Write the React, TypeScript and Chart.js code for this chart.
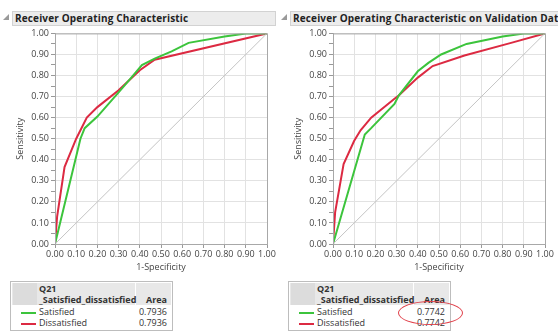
import React, { useEffect, useRef } from "react";
import { Chart, registerables } from "chart.js";

Chart.register(...registerables);

// ---- data ----
const axisTicks = [0, 0.1, 0.2, 0.3, 0.4, 0.5, 0.6, 0.7, 0.8, 0.9, 1.0];

const trainSatisfiedFpr = [0, 0.12, 0.14, 0.2, 0.3, 0.36, 0.41, 0.47, 0.55, 0.63, 0.8, 0.9, 1.0];
const trainSatisfiedTpr = [0, 0.5, 0.55, 0.605, 0.72, 0.79, 0.85, 0.88, 0.915, 0.955, 0.985, 1.0, 1.0];
const trainDissatisfiedFpr = [0, 0.01, 0.045, 0.1, 0.15, 0.2, 0.3, 0.4, 0.47, 1.0];
const trainDissatisfiedTpr = [0, 0.13, 0.365, 0.5, 0.6, 0.65, 0.73, 0.825, 0.875, 1.0];

const validSatisfiedFpr = [0, 0.15, 0.18, 0.29, 0.31, 0.4, 0.45, 0.51, 0.63, 0.8, 0.9, 1.0];
const validSatisfiedTpr = [0, 0.52, 0.55, 0.665, 0.705, 0.82, 0.86, 0.9, 0.95, 0.985, 1.0, 1.0];
const validDissatisfiedFpr = [0, 0.01, 0.05, 0.1, 0.13, 0.18, 0.29, 0.31, 0.4, 0.47, 0.62, 0.84, 1.0];
const validDissatisfiedTpr = [0, 0.15, 0.38, 0.49, 0.54, 0.6, 0.69, 0.705, 0.79, 0.845, 0.895, 0.955, 1.0];

const legendLabels = ["Satisfied", "Dissatisfied"];
const trainAreas = ["0.7936", "0.7936"];
const validAreas = ["0.7742", "0.7742"];
const panelTitles = ["Receiver Operating Characteristic", "Receiver Operating Characteristic on Validation Data"];

const GREEN = "#3cc43c";
const RED = "#dc2a42";
const FONT = "'Open Sans', 'DejaVu Sans', sans-serif";

function toPoints(xs: number[], ys: number[]) {
  return xs.map((x, i) => ({ x, y: ys[i] }));
}

function RocChart(props: { left: number; satX: number[]; satY: number[]; disX: number[]; disY: number[] }) {
  const ref = useRef<HTMLCanvasElement>(null);
  useEffect(() => {
    if (!ref.current) return;
    const isMajor = (v: number) => Math.round(v * 100) % 10 === 0;
    const chart = new Chart(ref.current, {
      type: "scatter",
      data: {
        datasets: [
          {
            label: "diag",
            data: [{ x: 0, y: 0 }, { x: 1, y: 1 }],
            showLine: true,
            borderColor: "#c4c4c4",
            borderWidth: 1,
            pointRadius: 0,
          },
          {
            label: legendLabels[0],
            data: toPoints(props.satX, props.satY),
            showLine: true,
            borderColor: GREEN,
            borderWidth: 2,
            pointRadius: 0,
          },
          {
            label: legendLabels[1],
            data: toPoints(props.disX, props.disY),
            showLine: true,
            borderColor: RED,
            borderWidth: 2,
            pointRadius: 0,
          },
        ],
      },
      options: {
        animation: false,
        responsive: false,
        maintainAspectRatio: false,
        layout: { padding: { top: 6, right: 12, left: 0, bottom: 0 } },
        plugins: { legend: { display: false }, tooltip: { enabled: false } },
        scales: {
          x: {
            type: "linear",
            min: 0,
            max: 1,
            afterFit: (s: any) => { s.height = 30; },
            afterBuildTicks: (s: any) => { s.ticks = axisTicks.map((v) => ({ value: v })); },
            ticks: {
              autoSkip: false,
              maxRotation: 0,
              padding: 1,
              color: "#444",
              font: { family: FONT, size: 9 },
              callback: (v: any) => Number(v).toFixed(2),
            },
            grid: { color: "#e2e2e2", tickColor: "#999", tickLength: 4 },
            border: { color: "#a8a8a8" },
            title: { display: true, text: "1-Specificity", color: "#444", font: { family: FONT, size: 9 }, padding: { top: 0, bottom: 1 } },
          },
          y: {
            type: "linear",
            min: 0,
            max: 1,
            afterFit: (s: any) => { s.width = 47; },
            afterBuildTicks: (s: any) => {
              const t = [];
              for (let i = 0; i <= 20; i++) t.push({ value: i / 20 });
              s.ticks = t;
            },
            ticks: {
              autoSkip: false,
              padding: 2,
              color: "#444",
              font: { family: FONT, size: 9 },
              callback: (v: any) => (isMajor(Number(v)) ? Number(v).toFixed(2) : ""),
            },
            grid: {
              color: (c: any) => (c.tick && isMajor(c.tick.value) ? "#e2e2e2" : "rgba(0,0,0,0)"),
              tickColor: "#999",
              tickLength: 4,
            },
            border: { color: "#a8a8a8" },
            title: { display: true, text: "Sensitivity", color: "#444", font: { family: FONT, size: 9 }, padding: { top: 7, bottom: 0 } },
          },
        },
      },
      plugins: [
        {
          id: "frame",
          afterDraw(c: any) {
            const a = c.chartArea;
            const ctx = c.ctx;
            ctx.save();
            ctx.strokeStyle = "#a8a8a8";
            ctx.lineWidth = 1;
            ctx.strokeRect(a.left + 0.5, a.top + 0.5, a.right - a.left, a.bottom - a.top);
            ctx.restore();
          },
        },
      ],
    } as any);
    return () => chart.destroy();
  }, []);
  return (
    <canvas
      ref={ref}
      width={271}
      height={248}
      style={{ position: "absolute", left: props.left, top: 26, width: 271, height: 248 }}
    />
  );
}

function TitleBar(props: { left: number; text: string; width: number }) {
  return (
    <>
      <div
        style={{
          position: "absolute",
          left: props.left - 9,
          top: 14,
          width: 0,
          height: 0,
          borderLeft: "6px solid transparent",
          borderBottom: "6px solid #9a9a9a",
        }}
      />
      <div
        style={{
          position: "absolute",
          left: props.left,
          top: 11,
          width: props.width,
          height: 13,
          background: "#ececec",
          border: "1px solid #d2d2d2",
          fontFamily: FONT,
          fontWeight: 700,
          fontSize: 10,
          letterSpacing: 0.15,
          lineHeight: "13px",
          color: "#222",
          paddingLeft: 2,
          whiteSpace: "nowrap",
          overflow: "hidden",
        }}
      >
        {props.text}
      </div>
    </>
  );
}

function AreaTable(props: { left: number; areas: string[] }) {
  const base: React.CSSProperties = { position: "absolute", fontFamily: FONT, fontSize: 9, color: "#333", whiteSpace: "nowrap", lineHeight: "10px" };
  return (
    <div style={{ position: "absolute", left: props.left, top: 281, width: 161, height: 48, border: "1px solid #bdbdbd", background: "#fff" }}>
      <div style={{ position: "absolute", left: 1, top: 1, width: 159, height: 22, background: "#e8e8e8" }} />
      <div style={{ position: "absolute", left: 2, top: 1, width: 24, height: 22, background: "#dcdcdc" }} />
      <div style={{ position: "absolute", left: 124, top: 1, width: 1, height: 22, background: "#fff" }} />
      <div style={{ ...base, left: 28, top: 2, fontWeight: 700 }}>Q21</div>
      <div style={{ ...base, left: 28, top: 13, fontWeight: 700 }}>_Satisfied_dissatisfied</div>
      <div style={{ ...base, right: 5, top: 13, fontWeight: 700 }}>Area</div>
      {legendLabels.map((lab, i) => (
        <React.Fragment key={lab}>
          <div style={{ position: "absolute", left: 10, top: 30 + i * 11, width: 15, height: 2, background: i === 0 ? GREEN : RED }} />
          <div style={{ ...base, left: 28, top: 25 + i * 11 }}>{lab}</div>
          <div style={{ ...base, right: 5, top: 25 + i * 11 }}>{props.areas[i]}</div>
        </React.Fragment>
      ))}
    </div>
  );
}

export default function App() {
  return (
    <div style={{ position: "fixed", left: 0, top: 0, width: 558, height: 331, background: "#fff", overflow: "hidden" }}>
      <TitleBar left={12} text={panelTitles[0]} width={260} />
      <TitleBar left={290} text={panelTitles[1]} width={280} />
      <RocChart left={8} satX={trainSatisfiedFpr} satY={trainSatisfiedTpr} disX={trainDissatisfiedFpr} disY={trainDissatisfiedTpr} />
      <RocChart left={286} satX={validSatisfiedFpr} satY={validSatisfiedTpr} disX={validDissatisfiedFpr} disY={validDissatisfiedTpr} />
      <AreaTable left={10} areas={trainAreas} />
      <AreaTable left={288} areas={validAreas} />
      <div style={{ position: "absolute", left: 398, top: 301, width: 65, height: 24, border: "1px solid #e0404a", borderRadius: "50%", boxSizing: "border-box" }} />
    </div>
  );
}
